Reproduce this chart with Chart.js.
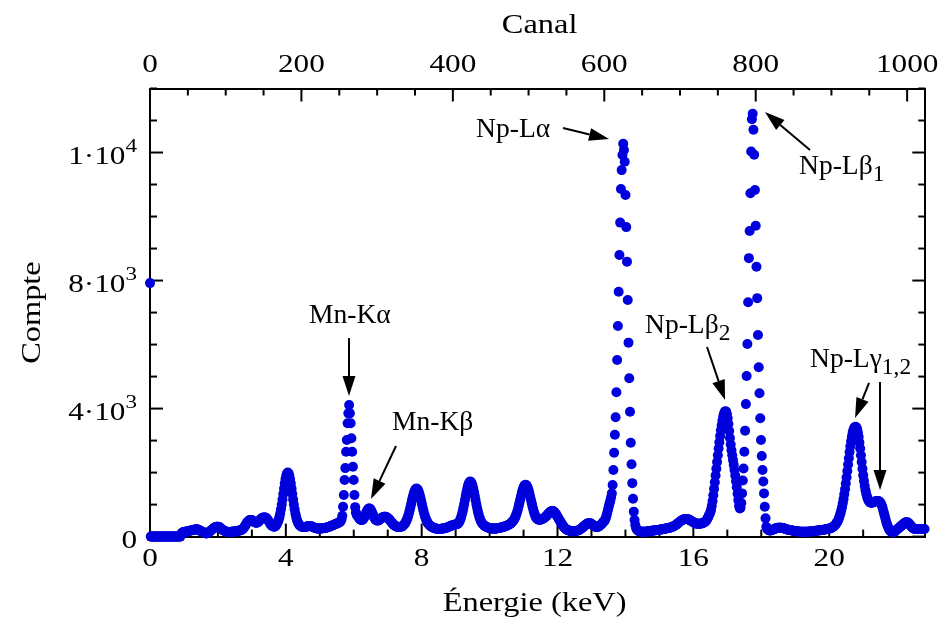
<!DOCTYPE html>
<html>
<head>
<meta charset="utf-8">
<script src="https://cdn.jsdelivr.net/npm/chart.js@4.4.1/dist/chart.umd.min.js"></script>
<style>
  html, body { margin: 0; padding: 0; background: #fff; }
  #wrap { width: 941px; height: 627px; }
</style>
</head>
<body>
<div id="wrap"><canvas id="spectre" width="941" height="627"></canvas></div>
<script>
// Spectre X : comptes par canal, canaux 0 à 1023, dix canaux par ligne
const counts = [
  7920,0,0,0,0,0,0,0,0,0,
  0,0,0,0,0,0,0,0,0,0,
  0,0,0,0,0,0,0,0,0,0,
  0,0,0,0,0,0,0,0,0,0,
  0,60,110,130,140,140,150,150,160,160,
  170,170,180,180,190,200,200,210,210,220,
  220,230,230,220,210,200,190,170,160,150,
  140,130,120,110,100,100,110,120,140,160,
  180,200,220,240,260,280,290,300,310,310,
  310,300,290,270,250,230,210,190,180,170,
  160,150,150,140,140,140,140,150,150,150,
  160,160,160,170,170,170,180,180,190,190,
  200,210,230,250,280,310,350,390,430,460,
  490,510,520,520,520,510,490,470,450,440,
  430,430,440,460,480,510,540,560,580,590,
  600,600,600,590,570,540,510,470,430,390,
  360,340,325,315,310,315,330,375,412,463,
  530,616,723,853,999,1160,1332,1502,1662,1799,
  1908,1976,2000,1976,1908,1799,1662,1502,1332,1160,
  999,853,723,616,530,463,412,375,345,325,
  310,305,300,300,300,300,310,310,320,320,
  330,330,330,320,310,300,290,280,270,260,
  260,250,250,250,250,250,250,260,260,260,
  270,270,280,280,290,290,300,310,320,330,
  340,350,360,370,380,390,400,410,420,430,
  440,460,490,540,650,930,1300,1770,2140,2650,
  3020,3540,3850,4110,3850,3540,3070,2650,2180,1770,
  1300,920,750,680,650,620,580,550,530,520,
  520,530,560,600,650,710,770,820,860,880,
  880,860,820,770,710,650,600,560,530,510,
  500,500,510,520,540,560,580,600,610,620,
  620,620,610,600,580,560,540,510,480,450,
  420,390,370,350,330,320,310,300,300,300,
  300,305,310,320,335,362,388,421,462,514,
  576,649,732,824,925,1028,1132,1230,1319,1394,
  1452,1488,1500,1488,1452,1394,1319,1230,1132,1028,
  925,824,732,649,576,514,462,421,388,362,
  340,320,305,290,280,270,260,255,250,245,
  240,240,240,240,240,245,250,250,255,260,
  270,270,280,290,300,310,320,330,340,350,
  360,365,370,375,380,385,390,408,443,488,
  545,615,698,795,904,1021,1145,1269,1388,1497,
  1590,1661,1705,1720,1705,1661,1590,1497,1388,1269,
  1145,1021,904,795,698,615,545,488,443,408,
  380,355,335,320,305,295,285,275,268,262,
  255,250,250,250,250,250,250,250,255,260,
  265,270,275,280,285,290,295,300,310,320,
  330,340,350,360,370,385,400,420,445,475,
  504,539,584,639,704,779,865,959,1059,1160,
  1263,1359,1446,1519,1574,1608,1620,1608,1574,1519,
  1446,1359,1263,1160,1059,959,865,779,704,639,
  590,560,540,530,525,525,530,540,550,560,
  575,590,610,630,655,680,710,740,760,780,
  790,800,800,790,770,740,710,670,630,590,
  550,510,470,430,390,350,320,290,260,240,
  220,210,200,190,180,180,170,170,170,170,
  170,170,170,175,180,190,200,210,220,240,
  260,280,300,320,340,360,380,400,410,420,
  420,420,410,400,380,360,340,320,310,300,
  300,300,310,320,340,360,380,400,430,460,
  490,520,580,660,750,850,950,1040,1130,1230,
  1350,1610,2080,2620,3180,3730,4510,5520,6580,7650,
  8800,9810,10860,11450,11920,12270,12080,11710,10670,9670,
  8590,7390,6060,4950,3900,2930,2260,1670,1180,780,
  520,360,270,220,190,180,170,160,160,150,
  150,150,150,150,150,155,160,160,165,170,
  170,175,180,180,185,190,190,195,200,200,
  205,210,210,215,220,220,225,230,235,240,
  245,250,255,260,265,270,275,280,290,295,
  305,315,325,340,355,370,390,410,430,450,
  470,490,505,520,530,540,545,550,550,550,
  545,540,530,515,500,485,470,455,440,430,
  420,410,405,400,400,400,400,405,410,415,
  420,430,445,460,480,510,550,600,650,700,
  760,840,960,1110,1290,1490,1700,1910,2120,2330,
  2540,2750,2950,3140,3320,3480,3620,3740,3830,3890,
  3920,3900,3830,3700,3520,3300,3080,2880,2700,2540,
  2390,2240,2080,1910,1730,1540,1340,1140,960,880,
  900,1050,1350,1750,2130,2650,3310,4140,5020,6020,
  7320,8700,9550,10730,12030,13040,13210,12710,11930,10830,
  9710,8430,7450,6300,5290,4480,3700,3020,2520,2080,
  1720,1350,930,570,310,250,220,200,190,190,
  190,200,210,220,230,240,250,260,270,275,
  280,280,280,280,275,270,265,260,250,240,
  230,225,220,215,210,205,200,195,190,185,
  180,175,170,170,165,165,160,160,155,155,
  150,150,150,150,150,150,150,150,150,155,
  155,160,160,165,165,170,170,175,175,180,
  180,185,190,190,195,200,200,205,210,210,
  215,220,225,230,235,240,245,250,255,260,
  270,285,300,320,340,365,395,430,470,520,
  580,650,730,820,920,1040,1170,1320,1480,1660,
  1850,2050,2250,2450,2640,2820,2980,3120,3240,3330,
  3390,3420,3430,3410,3350,3250,3110,2940,2750,2540,
  2330,2120,1920,1740,1580,1450,1340,1250,1180,1130,
  1090,1070,1060,1060,1060,1070,1080,1090,1100,1110,
  1115,1115,1110,1100,1080,1050,1000,940,860,770,
  680,590,500,420,350,290,240,200,170,150,
  140,135,140,150,170,190,210,230,250,270,
  290,310,330,350,370,390,410,430,440,450,
  450,440,420,390,360,330,300,280,260,250,
  240,240,240,240,240,240,240,240,240,240,
  240,240,240,240
];

// Axes : canaux en haut, énergie en bas
const channelMax = 1024;
const energyMax = 22.83;          // keV au bord droit (canal 1024)
const canalTicks = [0, 200, 400, 600, 800, 1000];
const canalMinorStep = 50;
const energyTicks = [0, 4, 8, 12, 16, 20];
const energyMinorStep = 1;
const countMax = 14000;
const countTicks = [0, 4000, 8000, 12000];
const countTickLabels = ['0', '4·10³', '8·10³', '1·10⁴'];
const countMinorStep = 1000;

// Raies identifiées : texte (canal, compte du début de ligne de base)
const lineNames = ['Np-Lα', 'Np-Lβ', 'Mn-Kα', 'Mn-Kβ', 'Np-Lβ', 'Np-Lγ'];
const lineSubs  = ['', '1', '', '', '2', '1,2'];
const lineTextAt = [[430.6, 12481], [857.2, 11328], [210, 6664], [319.6, 3330], [653.8, 6351], [871.7, 5308]];
// Flèches : [canal, compte] de départ -> [canal, compte] de pointe
const arrowFrom = [[545.5, 12763], [871.7, 12076], [262.8, 6204], [324.9, 2831], [735.7, 5923], [949.7, 4800], [964.2, 4831]];
const arrowTo   = [[606.3, 12419], [812.3, 13263], [262.8, 4392], [291.9, 1175], [759.5, 4267], [931.2, 3706], [964.2, 1456]];

const SERIF = '"Liberation Serif", "Times New Roman", serif';
const TXT = { tick: 25, tickSX: 1.25, title: 27, titleSX: 1.2, note: 26.5, noteSX: 1.04, subRatio: 0.85 };
const SUPS = '⁰¹²³⁴⁵⁶⁷⁸⁹';

function fontOf(size) { return size + 'px ' + SERIF; }

// Dessine une suite de morceaux de texte (taille et décalage vertical propres)
function drawRuns(ctx, runs, x, y, align, sx) {
  let total = 0;
  runs.forEach(r => { ctx.font = fontOf(r.size); r.w = ctx.measureText(r.text).width * sx; total += r.w; });
  let cx = align === 'right' ? x - total : align === 'center' ? x - total / 2 : x;
  runs.forEach(r => {
    ctx.save();
    ctx.font = fontOf(r.size);
    ctx.textAlign = 'left';
    ctx.textBaseline = 'alphabetic';
    ctx.translate(cx, y + r.dy);
    ctx.scale(sx, 1);
    ctx.fillText(r.text, 0, 0);
    ctx.restore();
    cx += r.w;
  });
}

// Sépare les exposants (³, ⁴…) pour les écrire plus petits et surélevés
function supRuns(label, size) {
  const runs = [];
  let cur = '', sup = false;
  const make = (t, s) => s ? { text: t, size: size * 0.74, dy: -size * 0.47 } : { text: t, size: size, dy: 0 };
  for (const ch of label) {
    const i = SUPS.indexOf(ch);
    const isSup = i >= 0;
    if (isSup !== sup && cur) { runs.push(make(cur, sup)); cur = ''; }
    sup = isSup;
    cur += isSup ? String(i) : ch;
  }
  if (cur) runs.push(make(cur, sup));
  return runs;
}

function arrow(ctx, x1, y1, x2, y2) {
  const ang = Math.atan2(y2 - y1, x2 - x1);
  const L = 20, W = 6.5;
  const bx = x2 - L * Math.cos(ang), by = y2 - L * Math.sin(ang);
  ctx.beginPath();
  ctx.moveTo(x1, y1);
  ctx.lineTo(bx, by);
  ctx.lineWidth = 2;
  ctx.stroke();
  ctx.beginPath();
  ctx.moveTo(x2, y2);
  ctx.lineTo(bx + W * Math.sin(ang), by - W * Math.cos(ang));
  ctx.lineTo(bx - W * Math.sin(ang), by + W * Math.cos(ang));
  ctx.closePath();
  ctx.fill();
}

const frame = {
  id: 'frame',
  // graduations tournées vers l'intérieur, sous les points
  beforeDatasetsDraw(chart) {
    const { ctx, chartArea: a, scales: s } = chart;
    const MAJ = 13, MIN = 7;
    ctx.save();
    ctx.strokeStyle = '#000';
    ctx.lineWidth = 2;
    const seg = (x1, y1, x2, y2) => { ctx.beginPath(); ctx.moveTo(x1, y1); ctx.lineTo(x2, y2); ctx.stroke(); };
    for (let v = 0; v <= channelMax; v += canalMinorStep) {
      const x = s.x.getPixelForValue(v);
      seg(x, a.top, x, a.top + (canalTicks.includes(v) ? MAJ : MIN));
    }
    for (let v = 0; v <= energyMax; v += energyMinorStep) {
      const x = s.xE.getPixelForValue(v);
      seg(x, a.bottom, x, a.bottom - (energyTicks.includes(v) ? MAJ : MIN));
    }
    for (let v = 0; v <= countMax; v += countMinorStep) {
      const y = s.y.getPixelForValue(v);
      const L = countTicks.includes(v) ? MAJ : MIN;
      seg(a.left, y, a.left + L, y);
      seg(a.right, y, a.right - L, y);
    }
    ctx.restore();
  },
  afterDraw(chart) {
    const { ctx, chartArea: a, scales: s } = chart;
    ctx.save();
    ctx.fillStyle = '#000';
    ctx.strokeStyle = '#000';

    canalTicks.forEach(v => drawRuns(ctx, [{ text: String(v), size: TXT.tick, dy: 0 }],
      s.x.getPixelForValue(v), a.top - 16.8, 'center', TXT.tickSX));
    energyTicks.forEach(v => drawRuns(ctx, [{ text: String(v), size: TXT.tick, dy: 0 }],
      s.xE.getPixelForValue(v), a.bottom + 29.4, 'center', TXT.tickSX));
    countTicks.forEach((v, i) => drawRuns(ctx, supRuns(countTickLabels[i], TXT.tick),
      a.left - 13, s.y.getPixelForValue(v) + 11, 'right', TXT.tickSX));

    const cx = (a.left + a.right) / 2;
    drawRuns(ctx, [{ text: 'Canal', size: TXT.title, dy: 0 }], cx + 2, 33, 'center', TXT.titleSX);
    drawRuns(ctx, [{ text: 'Énergie (keV)', size: TXT.title, dy: 0 }], cx - 3, 611, 'center', TXT.titleSX);
    ctx.save();
    ctx.translate(40, (a.top + a.bottom) / 2);
    ctx.rotate(-Math.PI / 2);
    drawRuns(ctx, [{ text: 'Compte', size: TXT.title, dy: 0 }], 0, 0, 'center', TXT.titleSX);
    ctx.restore();

    lineNames.forEach((name, i) => {
      const x = s.x.getPixelForValue(lineTextAt[i][0]);
      const y = s.y.getPixelForValue(lineTextAt[i][1]);
      const runs = [{ text: name, size: TXT.note, dy: 0 }];
      if (lineSubs[i]) runs.push({ text: lineSubs[i], size: TXT.note * TXT.subRatio, dy: TXT.note * 0.27 });
      drawRuns(ctx, runs, x, y, 'left', TXT.noteSX);
    });
    arrowFrom.forEach((f, i) => {
      const t = arrowTo[i];
      arrow(ctx, s.x.getPixelForValue(f[0]), s.y.getPixelForValue(f[1]),
                 s.x.getPixelForValue(t[0]), s.y.getPixelForValue(t[1]));
    });
    ctx.restore();
  }
};

const axisBorder = { display: true, color: '#000', width: 2 };
const hidden = { display: false, drawTicks: false };

new Chart(document.getElementById('spectre'), {
  type: 'scatter',
  data: {
    datasets: [{
      data: counts.map((c, i) => ({ x: i, y: c })),
      pointRadius: 5,
      pointHoverRadius: 5,
      pointBorderWidth: 0,
      pointBackgroundColor: '#0000dc',
      showLine: false,
      clip: false
    }]
  },
  options: {
    responsive: false,
    animation: false,
    events: [],
    layout: { padding: 0 },
    plugins: { legend: { display: false }, tooltip: { enabled: false } },
    scales: {
      x: { type: 'linear', position: 'top', min: 0, max: channelMax,
           ticks: { display: false }, grid: hidden, border: axisBorder,
           afterFit(sc) { sc.height = 88.5; } },
      xE: { type: 'linear', position: 'bottom', min: 0, max: energyMax,
            ticks: { display: false }, grid: hidden, border: axisBorder,
            afterFit(sc) { sc.height = 90.4; } },
      y: { type: 'linear', position: 'left', min: 0, max: countMax,
           ticks: { display: false }, grid: hidden, border: axisBorder,
           afterFit(sc) { sc.width = 150; } },
      yR: { type: 'linear', position: 'right', min: 0, max: countMax,
            ticks: { display: false }, grid: hidden, border: axisBorder,
            afterFit(sc) { sc.width = 15.7; } }
    }
  },
  plugins: [frame]
});
</script>
</body>
</html>
